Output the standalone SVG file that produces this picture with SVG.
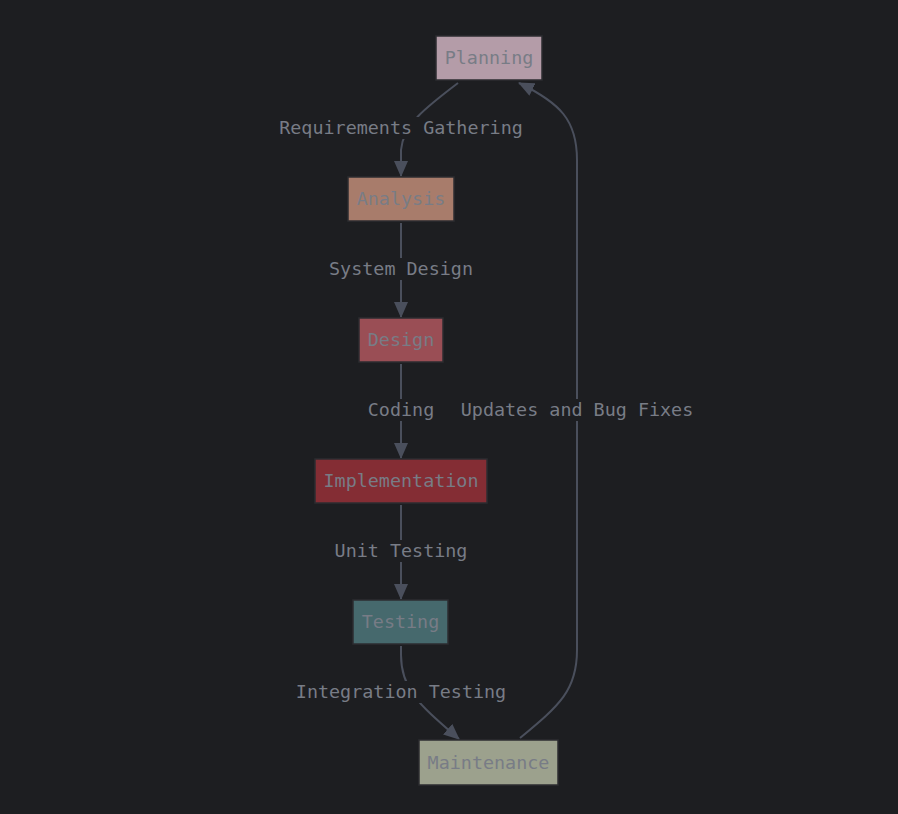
<svg xmlns="http://www.w3.org/2000/svg" width="898" height="814" viewBox="0 0 898 814">
<style>
.bg{fill:#1d1e21}
.node rect{stroke:#2c2d31;stroke-width:1.5}
.node text,.lbl text{font-family:"DejaVu Sans Mono","Liberation Mono",monospace;font-size:18.4px;fill:#787c86;text-anchor:middle;dominant-baseline:central}
.edge{fill:none;stroke:#4a4f5c;stroke-width:2}
.lbl rect{fill:#1d1e21}
</style>
<defs>
<marker id="ah" markerUnits="userSpaceOnUse" markerWidth="16" markerHeight="14" refX="15" refY="7" orient="auto">
<path d="M0,0 L16,7 L0,14 Z" fill="#4a4f5c"/>
</marker>
</defs>
<rect class="bg" x="0" y="0" width="898" height="814"/>
<g id="connectors">
<path class="edge" d="M458,83 C425,108 403,125 401,150 L401,176" marker-end="url(#ah)"/>
<path class="edge" d="M401,223 L401,317" marker-end="url(#ah)"/>
<path class="edge" d="M401,364 L401,458" marker-end="url(#ah)"/>
<path class="edge" d="M401,505 L401,599" marker-end="url(#ah)"/>
<path class="edge" d="M401,646 L401,655 C401,690 420,705 459,739" marker-end="url(#ah)"/>
<path class="edge" d="M520,738 C560,705 577,690 577,650 L577,160 C577,120 560,103 519,83" marker-end="url(#ah)"/>
<g class="lbl"><rect x="276" y="117" width="250" height="22"/><text x="401" y="127.5">Requirements Gathering</text></g>
<g class="lbl"><rect x="326" y="258" width="150" height="22"/><text x="401" y="268.5">System Design</text></g>
<g class="lbl"><rect x="365" y="399" width="72" height="22"/><text x="401" y="409.5">Coding</text></g>
<g class="lbl"><rect x="457" y="399" width="240" height="22"/><text x="577" y="409.5">Updates and Bug Fixes</text></g>
<g class="lbl"><rect x="331" y="540" width="140" height="22"/><text x="401" y="550.5">Unit Testing</text></g>
<g class="lbl"><rect x="292" y="681" width="218" height="22"/><text x="401" y="691.5">Integration Testing</text></g>
</g>
<g id="planning" class="node"><rect x="436" y="36" width="106" height="44" fill="#b49ca8"/><text x="489" y="57.5">Planning</text></g>
<g id="analysis" class="node"><rect x="348" y="177" width="106" height="44" fill="#a87c6b"/><text x="401" y="198.5">Analysis</text></g>
<g id="design" class="node"><rect x="359" y="318" width="84" height="44" fill="#9a4e55"/><text x="401" y="339.5">Design</text></g>
<g id="implementation" class="node"><rect x="315" y="459" width="172" height="44" fill="#842d34"/><text x="401" y="480.5">Implementation</text></g>
<g id="testing" class="node"><rect x="353" y="600" width="95" height="44" fill="#46696d"/><text x="400.5" y="621.5">Testing</text></g>
<g id="maintenance" class="node"><rect x="419" y="740" width="139" height="45" fill="#9ca18d"/><text x="488.5" y="762.5">Maintenance</text></g>
</svg>
